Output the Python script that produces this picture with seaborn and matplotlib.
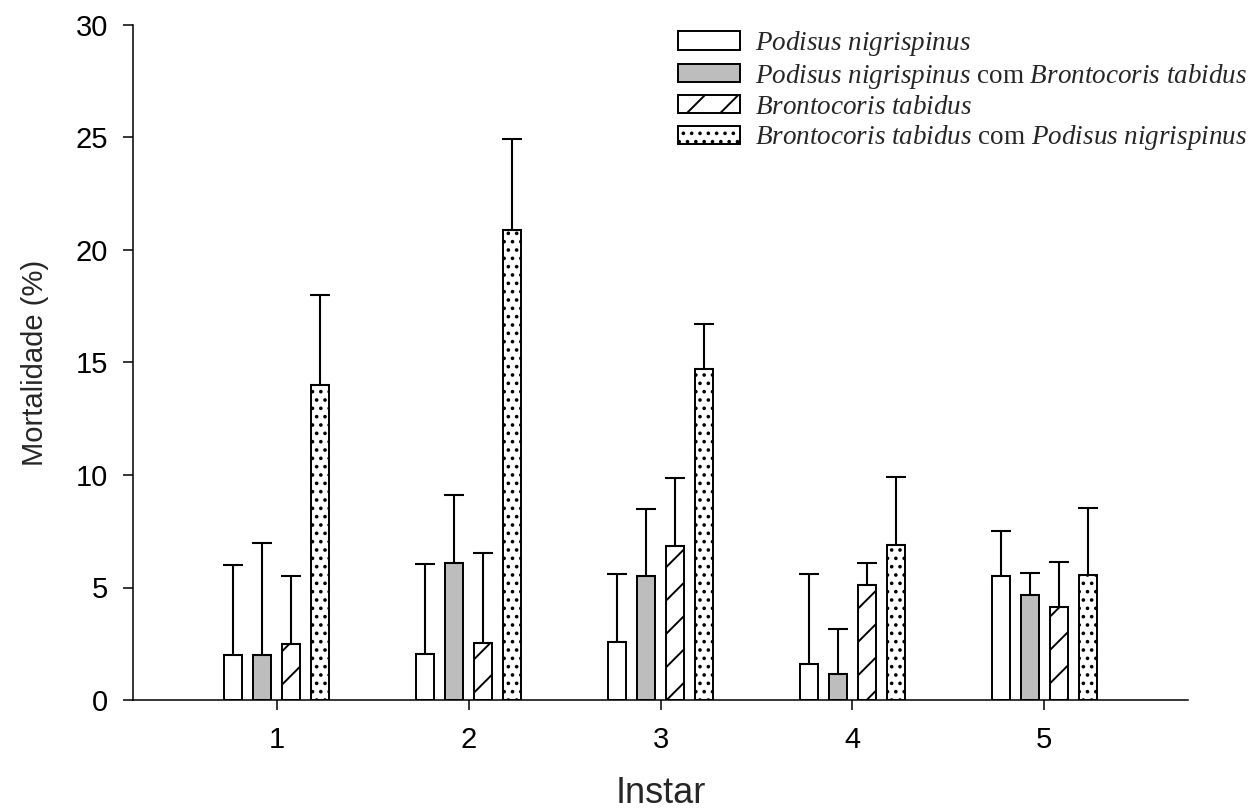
import pandas as pd
import seaborn as sns
import matplotlib.pyplot as plt
import numpy as np

# mean mortality (%) per instar and upper error (SE)
instar = ['1', '2', '3', '4', '5']
pn = [2.0, 2.05, 2.6, 1.6, 5.5]
pn_err = [4.0, 4.0, 3.0, 4.0, 2.0]
pn_bt = [2.0, 6.1, 5.5, 1.15, 4.65]
pn_bt_err = [5.0, 3.0, 3.0, 2.0, 1.0]
bt = [2.5, 2.55, 6.85, 5.1, 4.15]
bt_err = [3.0, 4.0, 3.0, 1.0, 2.0]
bt_pn = [14.0, 20.9, 14.7, 6.9, 5.55]
bt_pn_err = [4.0, 4.05, 2.0, 3.0, 3.0]

groups = ['pn', 'pn_bt', 'bt', 'bt_pn']
labels = [r'$\mathit{Podisus\ nigrispinus}$',
          r'$\mathit{Podisus\ nigrispinus}$ com $\mathit{Brontocoris\ tabidus}$',
          r'$\mathit{Brontocoris\ tabidus}$',
          r'$\mathit{Brontocoris\ tabidus}$ com $\mathit{Podisus\ nigrispinus}$']
colors = ['white', '#bdbdbd', 'white', 'white']
hatches = ['', '', '/', '..']

df = pd.DataFrame({
    'Instar': instar * 4,
    'Grupo': np.repeat(groups, len(instar)),
    'Mortalidade': pn + pn_bt + bt + bt_pn,
})
errs = [pn_err, pn_bt_err, bt_err, bt_pn_err]

sns.set_style('ticks')
plt.rcParams['font.family'] = ['Liberation Sans', 'DejaVu Sans']
plt.rcParams['mathtext.fontset'] = 'custom'
plt.rcParams['mathtext.it'] = 'Liberation Serif:italic'
plt.rcParams['mathtext.rm'] = 'Liberation Serif'
plt.rcParams['hatch.linewidth'] = 1.4

fig = plt.figure(figsize=(12.51, 8.10), dpi=100)
ax = fig.add_axes([133 / 1251, 1 - 700 / 810, 1055 / 1251, 675 / 810])

sns.barplot(data=df, x='Instar', y='Mortalidade', hue='Grupo', order=instar,
            hue_order=groups, palette=colors, width=0.604, gap=0.38,
            errorbar=None, edgecolor='black', linewidth=1.4, ax=ax)

bar_sets = list(ax.containers)
for cont, h, e in zip(bar_sets, hatches, errs):
    xs, ys = [], []
    for p in cont.patches:
        p.set_hatch(h)
        xs.append(p.get_x() + p.get_width() / 2)
        ys.append(p.get_height())
    ax.errorbar(xs, ys, yerr=[np.zeros(len(e)), e], fmt='none', ecolor='black',
                elinewidth=1.5, capsize=7, capthick=1.5, zorder=1)

handles = [c.patches[0] for c in bar_sets]
ax.get_legend().remove()
fig.legend(handles, labels, loc='upper left', bbox_to_anchor=(678 / 1251, 1 - 29 / 810),
           frameon=False, borderpad=0, borderaxespad=0, handlelength=2.3, handleheight=0.66,
           handletextpad=0.55, labelspacing=0.14,
           prop={'family': 'Liberation Serif', 'size': 19.5})

ax.set_xlim(-0.75, 4.75)
ax.set_ylim(0, 30)
ax.set_yticks([0, 5, 10, 15, 20, 25, 30])
ax.tick_params(axis='both', length=7, width=1.1, labelsize=21, colors='black')
ax.tick_params(axis='y', pad=11)
ax.tick_params(axis='x', pad=12)
sns.despine(ax=ax)
for s in ['left', 'bottom']:
    ax.spines[s].set_linewidth(1.1)
    ax.spines[s].set_color('black')

ax.set_xlabel('Instar', fontsize=26)
ax.set_ylabel('Mortalidade (%)', fontsize=21)
ax.xaxis.set_label_coords(0.5, -0.113)
ax.yaxis.set_label_coords(-0.08, 0.5)

fig.savefig('out.png', dpi=100)
